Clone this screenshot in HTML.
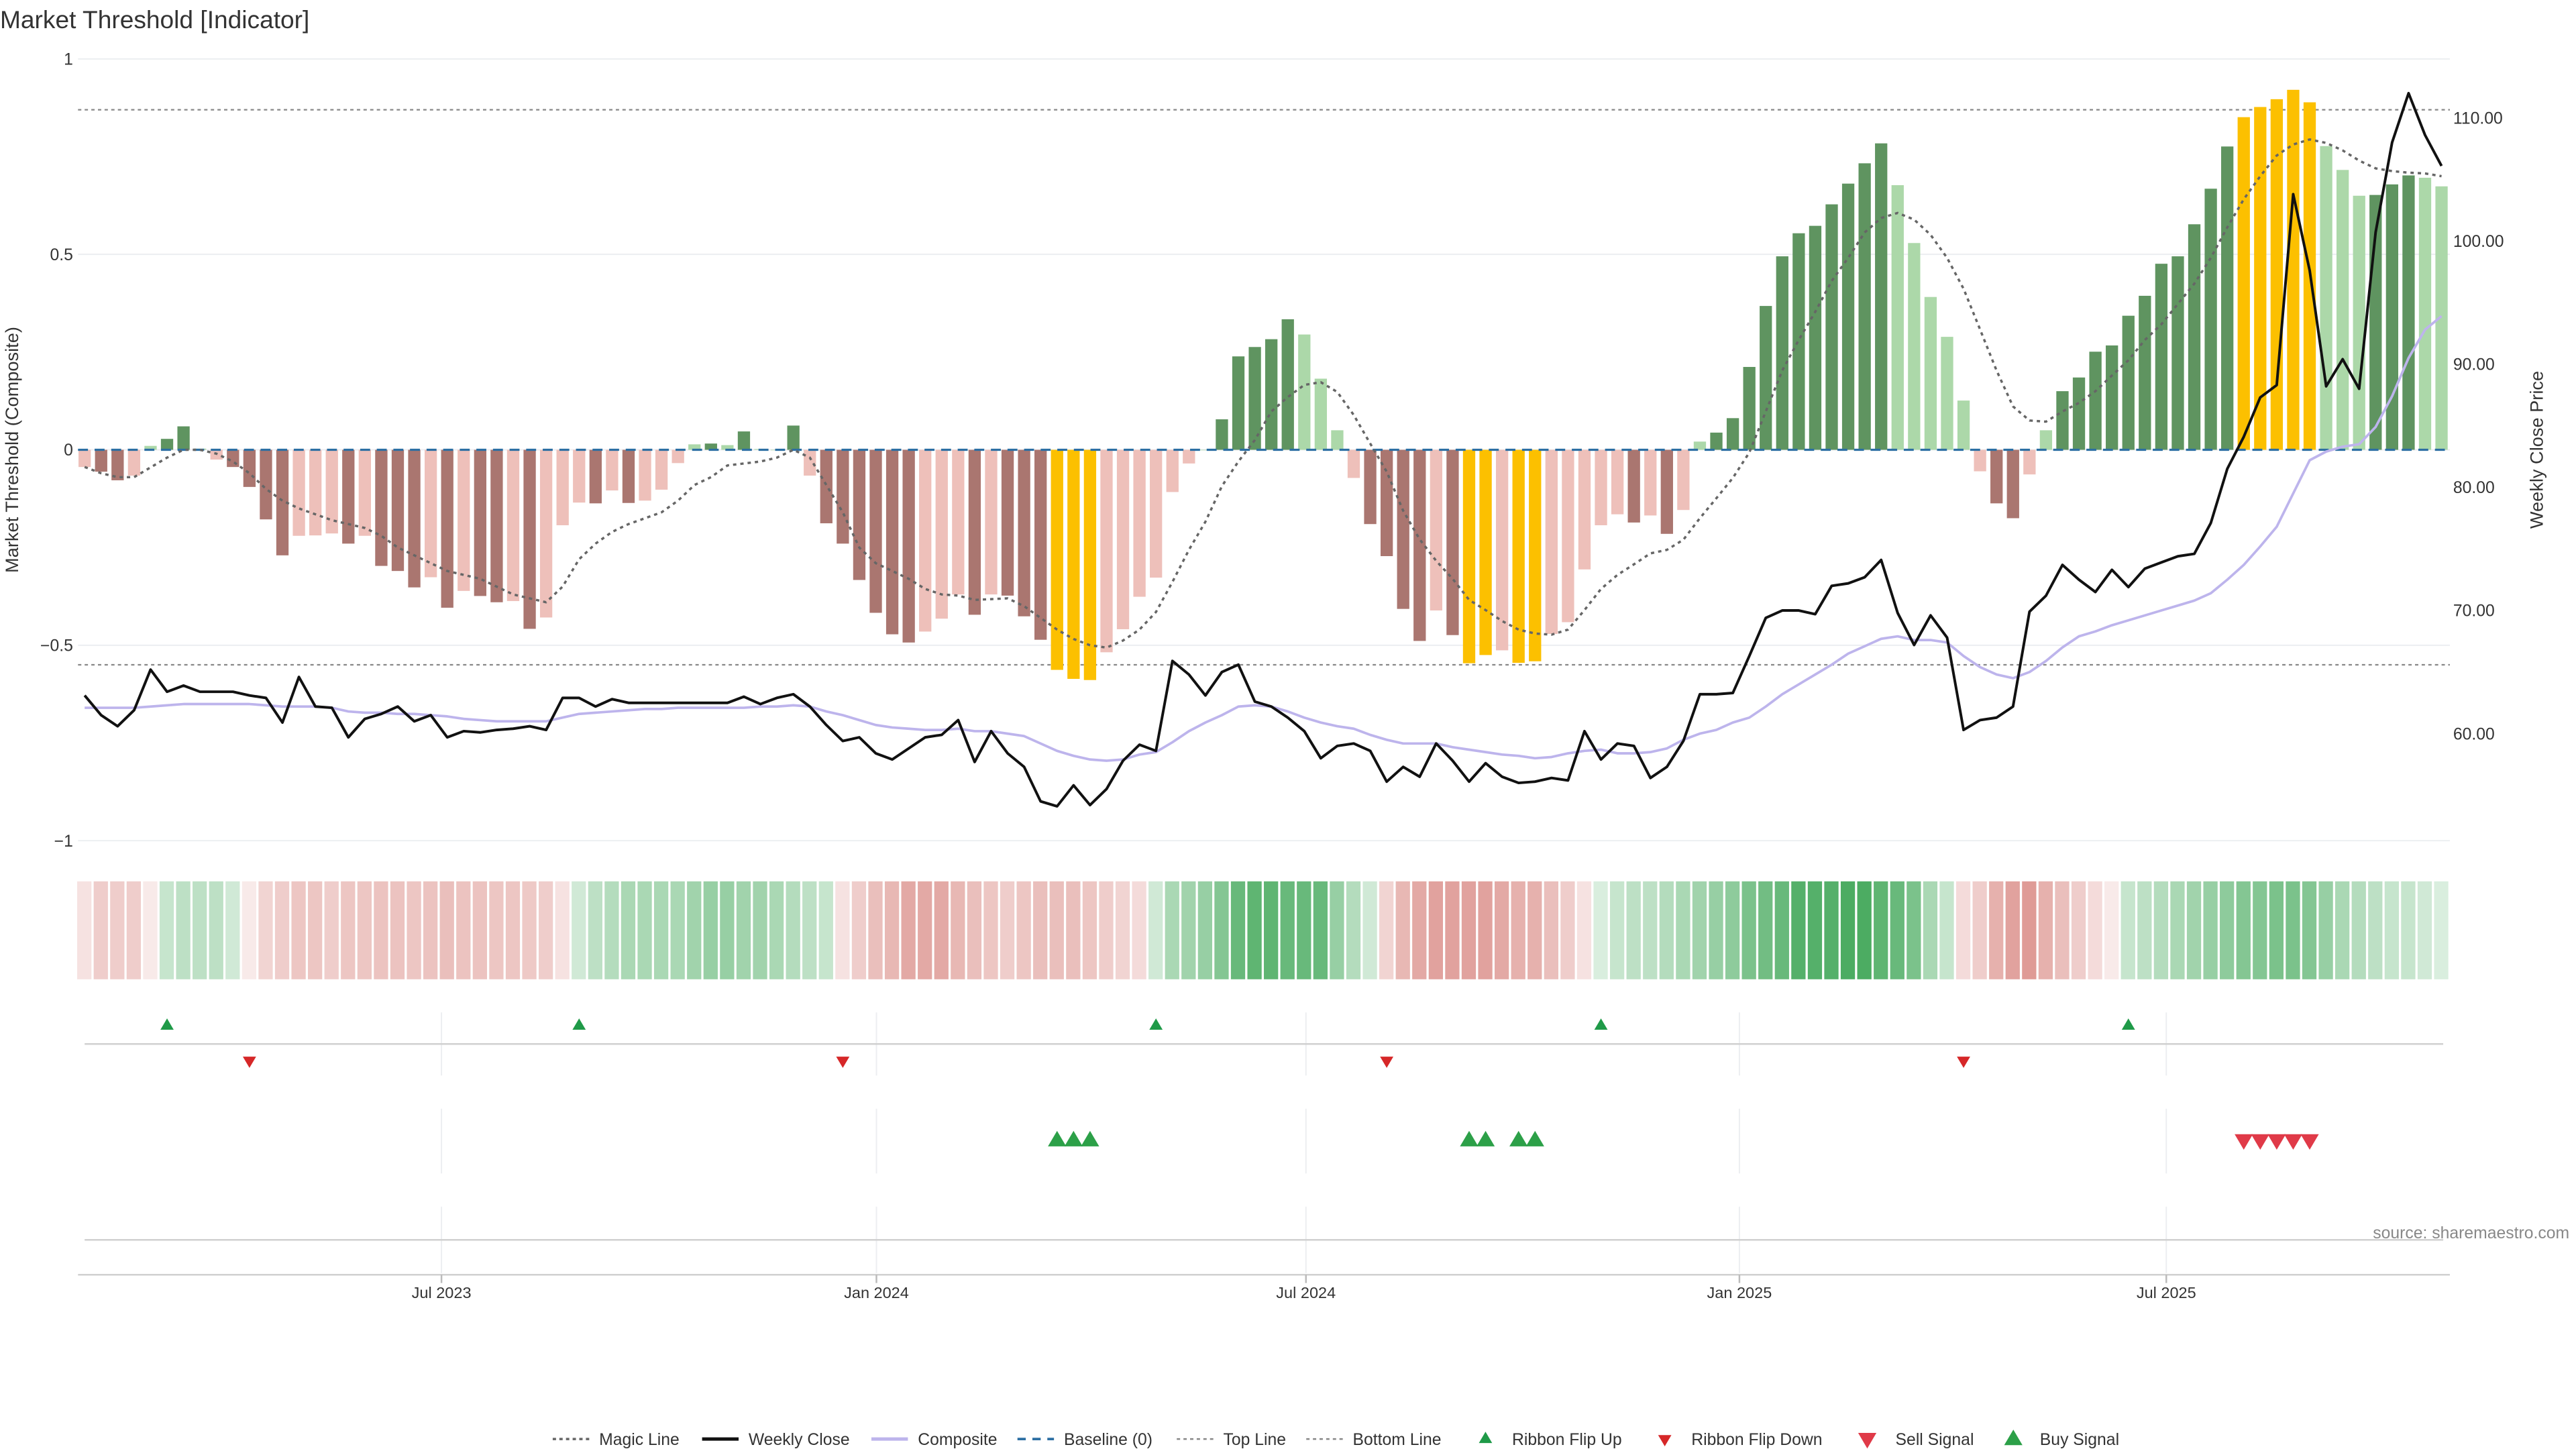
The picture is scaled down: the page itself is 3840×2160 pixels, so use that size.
<!DOCTYPE html>
<html><head><meta charset="utf-8">
<style>
html,body{margin:0;padding:0;background:#fff;}
body{width:3840px;height:2160px;overflow:hidden;}
svg{display:block;font-family:"Liberation Sans",sans-serif;}
</style></head>
<body>
<svg id="chart" width="3840" height="2160" viewBox="0 0 1552 873" preserveAspectRatio="none" xmlns="http://www.w3.org/2000/svg">
<text x="0" y="17" font-size="15" fill="#333">Market Threshold [Indicator]</text>
<text transform="translate(11,271) rotate(-90)" text-anchor="middle" font-size="11" fill="#333">Market Threshold (Composite)</text>
<text transform="translate(1532,271) rotate(-90)" text-anchor="middle" font-size="11" fill="#333">Weekly Close Price</text>
<text x="1548" y="746" text-anchor="end" font-size="10" fill="#888">source: sharemaestro.com</text>
<g id="grid"></g><g id="bars"></g><g id="lines"></g><g id="ribbon"></g><g id="signals"></g><g id="axes"></g><g id="legend"></g>
</svg>
<script>
const barValues=[-0.044,-0.056,-0.078,-0.066,0.01,0.028,0.06,0.003,-0.025,-0.044,-0.095,-0.178,-0.27,-0.22,-0.219,-0.214,-0.24,-0.22,-0.297,-0.31,-0.352,-0.326,-0.404,-0.361,-0.374,-0.39,-0.387,-0.458,-0.429,-0.193,-0.135,-0.137,-0.104,-0.136,-0.13,-0.102,-0.034,0.014,0.016,0.012,0.047,0.002,0.0,0.062,-0.066,-0.188,-0.24,-0.333,-0.417,-0.472,-0.493,-0.465,-0.432,-0.37,-0.422,-0.37,-0.373,-0.426,-0.486,-0.563,-0.586,-0.589,-0.518,-0.459,-0.376,-0.327,-0.108,-0.035,0.0,0.078,0.239,0.263,0.283,0.334,0.295,0.182,0.05,-0.072,-0.19,-0.272,-0.407,-0.489,-0.411,-0.474,-0.546,-0.525,-0.513,-0.545,-0.541,-0.471,-0.441,-0.306,-0.193,-0.165,-0.186,-0.168,-0.215,-0.154,0.021,0.044,0.081,0.212,0.368,0.495,0.554,0.573,0.628,0.681,0.733,0.784,0.677,0.529,0.391,0.289,0.126,-0.055,-0.137,-0.175,-0.063,0.05,0.15,0.185,0.251,0.267,0.343,0.394,0.476,0.495,0.577,0.668,0.776,0.851,0.877,0.897,0.921,0.889,0.777,0.716,0.65,0.652,0.679,0.702,0.696,0.674];
const barClass=[
"lr","dr","dr","lr","lg","dg","dg","lg","lr","dr",
"dr","dr","dr","lr","lr","lr","dr","lr","dr","dr",
"dr","lr","dr","lr","dr","dr","lr","dr","lr","lr",
"lr","dr","lr","dr","lr","lr","lr","lg","dg","lg",
"dg","lg","lg","dg","lr","dr","dr","dr","dr","dr",
"dr","lr","lr","lr","dr","lr","dr","dr","dr","y",
"y","y","lr","lr","lr","lr","lr","lr","lg","dg",
"dg","dg","dg","dg","lg","lg","lg","lr","dr","dr",
"dr","dr","lr","dr","y","y","lr","y","y","lr",
"lr","lr","lr","lr","dr","lr","dr","lr","lg","dg",
"dg","dg","dg","dg","dg","dg","dg","dg","dg","dg",
"lg","lg","lg","lg","lg","lr","dr","dr","lr","lg",
"dg","dg","dg","dg","dg","dg","dg","dg","dg","dg",
"dg","y","y","y","y","y","lg","lg","lg","dg",
"dg","dg","lg","lg"];
const magicLine=[-0.044,-0.06,-0.07,-0.07,-0.045,-0.02,0,0,-0.01,-0.03,-0.06,-0.1,-0.13,-0.15,-0.165,-0.18,-0.19,-0.2,-0.22,-0.25,-0.27,-0.29,-0.31,-0.32,-0.33,-0.35,-0.37,-0.38,-0.39,-0.35,-0.28,-0.24,-0.21,-0.19,-0.175,-0.16,-0.13,-0.09,-0.07,-0.04,-0.035,-0.03,-0.02,0,-0.02,-0.09,-0.16,-0.25,-0.29,-0.31,-0.33,-0.356,-0.37,-0.373,-0.384,-0.382,-0.38,-0.4,-0.43,-0.46,-0.484,-0.5,-0.506,-0.488,-0.46,-0.415,-0.338,-0.256,-0.184,-0.093,-0.03,0.025,0.098,0.135,0.166,0.173,0.148,0.089,0.016,-0.056,-0.156,-0.229,-0.284,-0.33,-0.384,-0.41,-0.438,-0.46,-0.47,-0.473,-0.46,-0.41,-0.356,-0.32,-0.293,-0.265,-0.256,-0.23,-0.175,-0.124,-0.072,-0.007,0.098,0.203,0.281,0.353,0.432,0.491,0.556,0.593,0.606,0.589,0.55,0.491,0.412,0.308,0.203,0.111,0.075,0.072,0.098,0.12,0.15,0.19,0.229,0.281,0.321,0.373,0.425,0.491,0.569,0.641,0.7,0.753,0.781,0.794,0.785,0.766,0.74,0.72,0.713,0.709,0.707,0.7];
const weeklyClose=[63.1,61.5,60.6,61.9,65.2,63.4,63.9,63.4,63.4,63.4,63.1,62.9,60.9,64.6,62.2,62.1,59.7,61.2,61.6,62.2,61.0,61.5,59.7,60.2,60.1,60.3,60.4,60.6,60.3,62.9,62.9,62.2,62.8,62.5,62.5,62.5,62.5,62.5,62.5,62.5,63.0,62.4,62.9,63.2,62.2,60.7,59.4,59.7,58.4,57.9,58.8,59.7,59.9,61.1,57.7,60.2,58.4,57.3,54.5,54.1,55.8,54.2,55.5,57.8,59.1,58.6,65.9,64.8,63.1,65.0,65.6,62.6,62.2,61.3,60.2,58.0,59.0,59.2,58.6,56.1,57.3,56.5,59.2,57.8,56.1,57.6,56.5,56.0,56.1,56.4,56.2,60.2,57.9,59.2,59.0,56.4,57.3,59.4,63.2,63.2,63.3,66.3,69.4,70.0,70.0,69.7,72.0,72.2,72.7,74.1,69.8,67.2,69.6,67.8,60.3,61.1,61.3,62.2,69.9,71.2,73.7,72.5,71.5,73.3,71.9,73.4,73.9,74.4,74.6,77.1,81.5,84.1,87.3,88.3,103.8,97.6,88.2,90.4,88.0,100.7,108.0,112.0,108.6,106.1];
const composite=[62.1,62.1,62.1,62.1,62.2,62.3,62.4,62.4,62.4,62.4,62.4,62.3,62.2,62.2,62.2,62.1,61.8,61.7,61.7,61.6,61.6,61.5,61.4,61.2,61.1,61.0,61.0,61.0,61.0,61.3,61.6,61.7,61.8,61.9,62.0,62.0,62.1,62.1,62.1,62.1,62.1,62.2,62.2,62.3,62.2,61.8,61.5,61.1,60.7,60.5,60.4,60.3,60.3,60.4,60.2,60.2,60.0,59.8,59.2,58.6,58.2,57.9,57.8,57.9,58.3,58.5,59.3,60.2,60.9,61.5,62.2,62.3,62.2,61.8,61.3,60.9,60.6,60.4,59.9,59.5,59.2,59.2,59.2,58.9,58.7,58.5,58.3,58.2,58.0,58.1,58.4,58.6,58.7,58.4,58.4,58.5,58.8,59.5,60.0,60.3,60.9,61.3,62.2,63.2,64.0,64.8,65.6,66.5,67.1,67.7,67.9,67.6,67.6,67.4,66.3,65.4,64.8,64.5,65.0,65.9,67.0,67.9,68.3,68.8,69.2,69.6,70.0,70.4,70.8,71.4,72.5,73.7,75.2,76.8,79.5,82.2,82.9,83.3,83.5,84.9,87.4,90.5,92.8,93.9];
const ribbonValues=[-0.2,-0.35,-0.35,-0.35,-0.15,0.3,0.35,0.35,0.35,0.25,-0.15,-0.3,-0.35,-0.4,-0.4,-0.35,-0.4,-0.4,-0.42,-0.42,-0.4,-0.42,-0.45,-0.42,-0.42,-0.4,-0.4,-0.38,-0.35,-0.2,0.25,0.35,0.4,0.45,0.45,0.45,0.45,0.5,0.55,0.55,0.5,0.5,0.45,0.4,0.35,0.3,-0.2,-0.35,-0.45,-0.5,-0.6,-0.6,-0.6,-0.5,-0.45,-0.4,-0.35,-0.4,-0.45,-0.45,-0.45,-0.4,-0.35,-0.3,-0.25,0.25,0.45,0.5,0.55,0.65,0.8,0.85,0.85,0.8,0.8,0.8,0.55,0.4,0.25,-0.3,-0.5,-0.6,-0.65,-0.65,-0.65,-0.65,-0.6,-0.55,-0.55,-0.45,-0.35,-0.2,0.2,0.3,0.35,0.35,0.4,0.45,0.5,0.55,0.6,0.7,0.75,0.8,0.9,0.9,0.9,0.95,0.95,0.85,0.8,0.7,0.45,0.3,-0.25,-0.35,-0.55,-0.65,-0.7,-0.55,-0.45,-0.35,-0.25,-0.15,0.3,0.35,0.4,0.45,0.5,0.55,0.6,0.65,0.65,0.7,0.7,0.65,0.55,0.45,0.4,0.35,0.3,0.3,0.25,0.2];
const flipUpIdx=[5,30,65,92,124];
const flipDownIdx=[10,46,79,114];
const buyIdx=[59,60,61,84,85,87,88];
const sellIdx=[131,132,133,134,135];
const leftTicks=[1,0.5,0,-0.5,-1];
const leftTickLabels=["1","0.5","0","\u22120.5","\u22121"];
const rightTicks=[60,70,80,90,100,110];
const dateTickIdx=[21.65,48.04,74.1,100.4,126.3];
const dateTickLabels=["Jul 2023","Jan 2024","Jul 2024","Jan 2025","Jul 2025"];
const topLineValue=0.87, bottomLineValue=-0.55;

const NS="http://www.w3.org/2000/svg";
const X0=51, DX=9.93, PL=47, PR=1476;
const xOf=i=>X0+i*DX;
const yC=v=>271-v*235.5;
const yP=p=>442-(p-60)*7.42;
function mk(tag,attrs,parent){const e=document.createElementNS(NS,tag);for(const k in attrs)e.setAttribute(k,attrs[k]);parent.appendChild(e);return e;}
const G=id=>document.getElementById(id);

const grid=G('grid');
leftTicks.forEach(v=>{const l=mk('line',{x1:PL,x2:PR,y1:yC(v),y2:yC(v),stroke:'#eceef1','stroke-width':0.8},grid);

});
[[topLineValue,'top-line'],[bottomLineValue,'bottom-line']].forEach(([v,n])=>{const l=mk('line',{x1:PL,x2:PR,y1:yC(v),y2:yC(v),stroke:'#888','stroke-width':0.9,'stroke-dasharray':'2,2'},grid);

});

const colors={dg:'#5f9460',lg:'#acd8a9',dr:'#aa7670',lr:'#eec0ba',y:'#fcc000'};
const bars=G('bars');
barValues.forEach((v,i)=>{const y0=yC(0),y1=yC(v);const r=mk('rect',{x:xOf(i)-3.7,width:7.4,y:Math.min(y0,y1),height:Math.max(0.3,Math.abs(y1-y0)),fill:colors[barClass[i]]},bars);

});
const base=mk('line',{x1:PL,x2:PR,y1:yC(0),y2:yC(0),stroke:'#2d6fa3','stroke-width':1.3,'stroke-dasharray':'6,4'},bars);



const lines=G('lines');
function poly(arr,fy,attrs,name){const pts=arr.map((v,i)=>xOf(i).toFixed(2)+','+fy(v).toFixed(2)).join(' ');const p=mk('polyline',Object.assign({points:pts,fill:'none','stroke-linejoin':'round'},attrs),lines);

}
poly(composite,yP,{stroke:'#bdb4ec','stroke-width':1.5},'composite-line');
poly(magicLine,yC,{stroke:'#666','stroke-width':1.4,'stroke-dasharray':'2,2.4'},'magic-line');
poly(weeklyClose,yP,{stroke:'#111','stroke-width':1.6},'weekly-close-line');

const rib=G('ribbon');
ribbonValues.forEach((v,i)=>{const a=Math.min(1,Math.abs(v)*0.92);const c=v>=0?[50,160,75]:[205,100,92];const col='rgb('+c.map(q=>Math.round(255-(255-q)*a)).join(',')+')';
const r=mk('rect',{x:xOf(i)-4.5,width:8.6,y:531,height:59,fill:col},rib);

});

const ax=G('axes');
leftTicks.forEach((v,k)=>{const t=mk('text',{x:44,y:yC(v)+3.5,'text-anchor':'end','font-size':10,fill:'#333'},ax);t.textContent=leftTickLabels[k];

});
rightTicks.forEach(p=>{const t=mk('text',{x:1478,y:yP(p)+3.5,'font-size':10,fill:'#333'},ax);t.textContent=p.toFixed(2);

});
[[610,648],[668,707],[727,767]].forEach(([a,b])=>dateTickIdx.forEach(ix=>{const l=mk('line',{x1:xOf(ix),x2:xOf(ix),y1:a,y2:b,stroke:'#eceef1','stroke-width':0.8},ax);

}));
[[51,1472,629,'flip-row-divider'],[51,1472,747,'signal-row-divider'],[PL,PR,768,'x-axis-line']].forEach(([a,b,y,n])=>{const l=mk('line',{x1:a,x2:b,y1:y,y2:y,stroke:'#d0d0d0','stroke-width':1},ax);

});
dateTickIdx.forEach((ix,k)=>{const tk=mk('line',{x1:xOf(ix),x2:xOf(ix),y1:768,y2:773,stroke:'#bbb','stroke-width':1},ax);


const t=mk('text',{x:xOf(ix),y:782,'text-anchor':'middle','font-size':9.5,fill:'#333'},ax);t.textContent=dateTickLabels[k];

});

const sg=G('signals');
function tri(x,y,up,w,col,name){const h=w*0.85;const pts=up?`${x-w/2},${y+h/2} ${x+w/2},${y+h/2} ${x},${y-h/2}`:`${x-w/2},${y-h/2} ${x+w/2},${y-h/2} ${x},${y+h/2}`;const p=mk('polygon',{points:pts,fill:col},sg);

return p;}
flipUpIdx.forEach(i=>tri(xOf(i),617,true,8,'#1f9a48','ribbon-flip-up'));
flipDownIdx.forEach(i=>tri(xOf(i),640,false,8,'#d62728','ribbon-flip-down'));
buyIdx.forEach(i=>tri(xOf(i),686,true,11,'#2ca048','buy-signal'));
sellIdx.forEach(i=>tri(xOf(i),688,false,11,'#e03a48','sell-signal'));

const lg=G('legend');const LY=867;
function ltext(x,s){const t=mk('text',{x:x,y:LY+3.5,'font-size':10,fill:'#333'},lg);t.textContent=s;

}
function lline(x,attrs,name){const l=mk('line',Object.assign({x1:x,x2:x+22,y1:LY,y2:LY},attrs),lg);

}
lline(333,{stroke:'#666','stroke-width':1.4,'stroke-dasharray':'2,2'},'legend-magic-line');ltext(361,'Magic Line');
lline(423,{stroke:'#111','stroke-width':2},'legend-weekly-close');ltext(451,'Weekly Close');
lline(525,{stroke:'#bdb4ec','stroke-width':2},'legend-composite');ltext(553,'Composite');
lline(613,{stroke:'#2d6fa3','stroke-width':1.5,'stroke-dasharray':'5,4'},'legend-baseline');ltext(641,'Baseline (0)');
lline(709,{stroke:'#888','stroke-width':1,'stroke-dasharray':'2,2'},'legend-top-line');ltext(737,'Top Line');
lline(787,{stroke:'#888','stroke-width':1,'stroke-dasharray':'2,2'},'legend-bottom-line');ltext(815,'Bottom Line');
tri(895,LY-1,true,8,'#1f9a48','legend-ribbon-flip-up');ltext(911,'Ribbon Flip Up');
tri(1003,LY+1,false,8,'#d62728','legend-ribbon-flip-down');ltext(1019,'Ribbon Flip Down');
tri(1125,LY+1,false,11,'#e03a48','legend-sell-signal');ltext(1142,'Sell Signal');
tri(1213,LY-1,true,11,'#2ca048','legend-buy-signal');ltext(1229,'Buy Signal');
</script>
</body></html>
